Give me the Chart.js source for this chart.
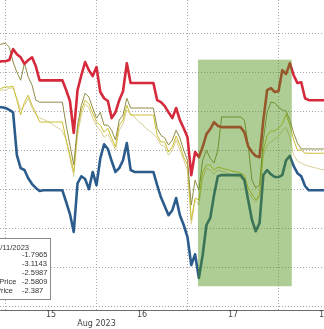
<!DOCTYPE html>
<html>
<head>
<meta charset="utf-8">
<script src="https://cdn.jsdelivr.net/npm/chart.js@4.4.1/dist/chart.umd.min.js"></script>
<style>
  html, body { margin: 0; padding: 0; background: #fff; }
</style>
</head>
<body>
<canvas id="cvsSpreads" width="324" height="329"></canvas>
<script>
// hourly time axis, hours counted from 15 Aug 00:00
const hours = Array.from({ length: 87 }, (_, i) => i - 2);

// ! series (hourly)
const redSeries = [
  6.26, 6.28, 6.28, 6.31, 6.59, 6.46, 6.38, 6.21, 6.31, 6.38, 6.15, 5.79,
  5.79, 5.79, 5.79, 5.79, 5.79, 5.79,
  5.54, 5.26, 4.44, 5.54, 5.92, 6.26, 6.05, 5.90, 6.13, 5.49, 5.33, 5.26, 4.82, 4.97, 5.28, 5.51, 6.23, 5.72,
  5.72, 5.72, 5.72, 5.72, 5.72, 5.72,
  5.28, 5.23, 5.13, 4.97, 4.82, 5.08, 4.77, 4.56, 4.33, 3.36, 3.95, 3.82, 4.08, 4.41, 4.54, 4.72, 4.62,
  4.59, 4.59, 4.59, 4.59, 4.59, 4.59,
  4.46, 4.10, 3.95, 3.85, 3.82, 4.77, 5.54, 5.59, 5.49, 5.51, 6.05, 5.95, 6.23, 5.92, 5.72, 5.74, 5.33,
  5.28, 5.28, 5.28, 5.28, 5.28
];
const blueSeries = [
  5.10, 5.10, 5.08, 5.03, 4.97, 3.87, 3.54, 3.49, 3.28, 3.13, 3.03, 2.95,
  2.97, 2.97, 2.97, 2.97, 2.97, 2.97,
  2.67, 2.36, 1.90, 3.15, 3.33, 3.26, 3.00, 3.44, 3.10, 3.79, 4.15, 4.03, 3.72, 3.44, 3.54, 3.74, 4.18, 3.49,
  3.44, 3.44, 3.44, 3.44, 3.44, 3.44,
  3.10, 2.79, 2.56, 2.33, 2.46, 2.77, 2.33, 2.08, 1.77, 1.05, 1.33, 0.72, 1.31, 2.08, 2.26, 2.85, 3.33,
  3.36, 3.36, 3.36, 3.36, 3.36, 3.36,
  3.23, 2.72, 2.21, 1.92, 2.13, 3.36, 3.49, 3.38, 3.31, 3.31, 3.36, 3.74, 3.85, 3.59, 3.41, 3.33, 3.08,
  2.97, 2.97, 2.97, 2.97, 2.97
];
const oliveSeries = [
  6.69, 6.72, 6.74, 6.64, 6.26, 6.00, 5.79, 6.23, 5.87, 5.67, 5.28, 5.23,
  5.23, 5.23, 5.23, 5.23, 5.23, 5.23,
  4.64, 4.13, 3.62, 4.64, 5.15, 5.46, 5.36, 5.08, 4.82, 4.97, 4.64, 4.64, 4.51, 4.26, 4.77, 4.90, 5.33, 5.08,
  5.08, 5.08, 5.08, 5.08, 5.08, 5.08,
  4.56, 4.38, 4.31, 4.13, 4.26, 4.51, 4.31, 4.00, 3.74, 2.59, 3.23, 2.97, 3.74, 4.00, 3.79, 3.67, 4.00,
  4.85, 4.85, 4.85, 4.85, 4.85, 4.85,
  4.77, 4.13, 3.23, 3.03, 3.10, 4.26, 4.97, 5.23, 5.21, 5.10, 5.03, 5.00, 4.77, 4.44, 4.18, 4.03, 4.03,
  4.03, 4.03, 4.03, 4.03, 4.03
];
const yellowSeries = [
  5.54, 5.59, 5.62, 5.62, 5.64, 5.28, 4.90, 5.23, 5.41, 5.15, 4.95, 4.72,
  4.72, 4.72, 4.72, 4.72, 4.72, 4.72,
  4.26, 3.87, 3.44, 4.51, 5.03, 5.28, 5.18, 4.95, 4.72, 4.64, 4.46, 4.56, 4.31, 4.08, 4.64, 4.77, 5.15, 4.90,
  4.90, 4.90, 4.90, 4.90, 4.90, 4.90,
  4.38, 4.21, 4.21, 3.95, 4.08, 4.36, 4.13, 3.82, 3.62, 2.21, 2.77, 2.72, 3.44, 3.62, 3.62, 3.49, 3.56,
  3.54, 3.51, 3.49, 3.46, 3.44, 3.41,
  3.36, 3.03, 2.87, 2.72, 2.85, 4.00, 4.38, 4.49, 4.49, 4.56, 4.67, 4.92, 4.64, 4.26, 4.00, 4.00, 3.92,
  3.92, 3.92, 3.92, 3.92, 3.92
];
const paleSeries = [
  5.49, 5.54, 5.54, 5.59, 5.59, 5.33, 5.03, 5.15, 5.33, 5.08, 4.92, 4.82,
  4.79, 4.74, 4.69, 4.62, 4.56, 4.49,
  4.26, 3.79, 3.33, 4.38, 4.90, 5.18, 5.08, 4.82, 4.62, 4.51, 4.33, 4.41, 4.21, 4.00, 4.51, 4.67, 5.03, 4.92,
  4.85, 4.74, 4.67, 4.56, 4.49, 4.41,
  4.31, 4.13, 4.10, 3.87, 4.00, 4.26, 4.00, 3.74, 3.49, 2.10, 2.72, 2.59, 3.28, 3.54, 3.49, 3.38, 3.49,
  3.46, 3.44, 3.38, 3.36, 3.33, 3.28,
  3.23, 2.92, 2.77, 2.67, 2.82, 3.87, 4.13, 4.21, 4.28, 4.36, 4.49, 4.59, 4.33, 3.87, 3.72, 3.67, 3.62,
  3.59, 3.56, 3.54, 3.51, 3.49
];

// ! axis ticks
const tickHours = [0, 12, 24, 36, 48, 60, 72, 84];
const dayLabels = ['15', '16', '17', '18'];   // at noon of each day
const monthLabel = 'Aug 2023';                 // under the 16 Aug boundary
const gridValues = [0, 1, 2, 3, 4, 5, 6, 7];

// ! shaded window and the hover box
const highlightHours = [50.75, 75.5];
const highlightRange = [0.51, 6.32];
const legendDate = '08/11/2023';
const legendLabels = ['2Y', '5Y', '10Y', 'Last Price', 'Bid Price'];
const legendValues = ['-1.7965', '-3.1143', '-2.5987', '-2.5809', '-2.387'];

const toPoints = arr => arr.map((v, i) => ({ x: hours[i], y: v }));
const gridColor = '#a8a8a8';

const highlightPlugin = {
  id: 'highlight',
  afterDatasetsDraw(chart) {
    const { ctx, scales: { x, y } } = chart;
    const x1 = x.getPixelForValue(highlightHours[0]);
    const x2 = x.getPixelForValue(highlightHours[1]);
    const y1 = y.getPixelForValue(highlightRange[1]);
    const y2 = y.getPixelForValue(highlightRange[0]);
    ctx.save();
    ctx.fillStyle = 'rgba(75,145,20,0.45)';
    ctx.fillRect(x1, y1, x2 - x1, y2 - y1);
    ctx.restore();
  }
};

const hoverBoxPlugin = {
  id: 'hoverBox',
  afterDraw(chart) {
    const { ctx } = chart;
    ctx.save();
    ctx.fillStyle = '#fff';
    ctx.strokeStyle = '#8a8a8a';
    ctx.lineWidth = 1;
    ctx.fillRect(-10, 238.5, 60.5, 61);
    ctx.strokeRect(-10, 238.5, 60.5, 61);
    ctx.fillStyle = '#333';
    ctx.font = '7.5px "Liberation Sans", Arial, sans-serif';
    ctx.textBaseline = 'middle';
    ctx.textAlign = 'left';
    ctx.fillText(legendDate, -8, 248);
    legendLabels.forEach((lab, i) => {
      const yy = 255 + i * 9;
      ctx.fillText(lab, -17, yy);
      ctx.fillText(legendValues[i], 22, yy);
    });
    ctx.restore();
  }
};

const cvs = document.getElementById('cvsSpreads');
new Chart(cvs, {
  type: 'line',
  data: {
    datasets: [
      { data: toPoints(redSeries), borderColor: '#d42a3c', borderWidth: 2.6 },
      { data: toPoints(blueSeries), borderColor: '#2c5c8c', borderWidth: 2.6 },
      { data: toPoints(oliveSeries), borderColor: '#8f8c45', borderWidth: 1 },
      { data: toPoints(yellowSeries), borderColor: '#cbbf32', borderWidth: 1 },
      { data: toPoints(paleSeries), borderColor: '#d9cf96', borderWidth: 1 }
    ]
  },
  options: {
    responsive: false,
    animation: false,
    devicePixelRatio: 1,
    layout: { padding: 0 },
    elements: {
      point: { radius: 0 },
      line: { tension: 0, borderJoinStyle: 'round', borderCapStyle: 'round' }
    },
    plugins: { legend: { display: false }, tooltip: { enabled: false } },
    scales: {
      x: {
        type: 'linear',
        min: -1.45,
        max: 84,
        afterBuildTicks: s => { s.ticks = tickHours.map(v => ({ value: v })); },
        afterFit: s => { s.height = 19; s.paddingLeft = 0; s.paddingRight = 0; },
        grid: {
          drawTicks: false,
          lineWidth: 1,
          color: c => (c.tick && c.tick.value % 24 === 0) ? gridColor : 'rgba(0,0,0,0)'
        },
        border: { display: true, color: '#6f6f6f', width: 1, dash: [1, 2] },
        ticks: {
          padding: 0,
          autoSkip: false,
          maxRotation: 0,
          color: '#444',
          font: { family: '"DejaVu Sans", sans-serif', size: 8 },
          callback: v => {
            if (v % 24 === 12) return dayLabels[(v - 12) / 24];
            if (v === 24) return ['', monthLabel];
            return '';
          }
        }
      },
      y: {
        min: -0.1,
        max: 7.85,
        afterBuildTicks: s => { s.ticks = gridValues.map(v => ({ value: v })); },
        afterFit: s => { s.width = 0; },
        ticks: { display: false },
        grid: { drawTicks: false, color: gridColor, lineWidth: 1 },
        border: { display: false, dash: [1, 2] }
      }
    }
  },
  plugins: [highlightPlugin, hoverBoxPlugin]
});
</script>
</body>
</html>
